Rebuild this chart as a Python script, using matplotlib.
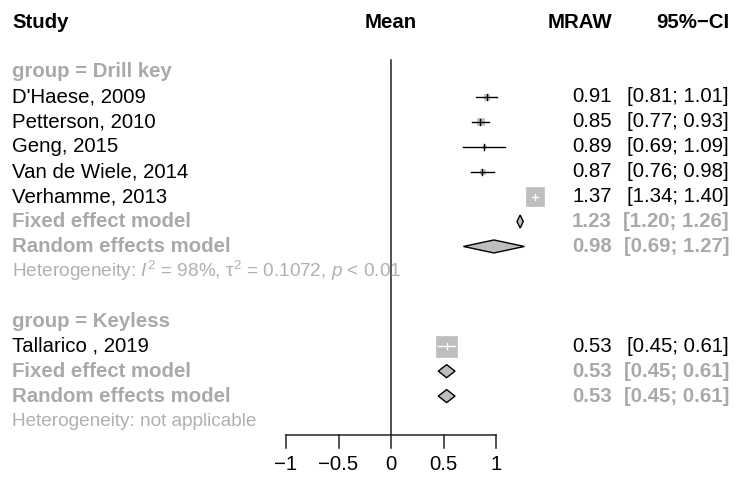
import numpy as np
import matplotlib.pyplot as plt
from matplotlib.patches import Rectangle, Polygon

plt.rcParams['font.family'] = 'Liberation Sans'
plt.rcParams['mathtext.fontset'] = 'custom'
plt.rcParams['mathtext.rm'] = 'Liberation Sans'
plt.rcParams['mathtext.it'] = 'Liberation Sans:italic'

# Subgroup 1: drill key
drill_studies = ["D'Haese, 2009", "Petterson, 2010", "Geng, 2015",
                 "Van de Wiele, 2014", "Verhamme, 2013"]
drill_mean = [0.91, 0.85, 0.89, 0.87, 1.37]
drill_lower = [0.81, 0.77, 0.69, 0.76, 1.34]
drill_upper = [1.01, 0.93, 1.09, 0.98, 1.40]
drill_weight = [6.8, 10.5, 1.7, 5.6, 75.4]   # % within subgroup
drill_fixed = (1.23, 1.20, 1.26)
drill_random = (0.98, 0.69, 1.27)
drill_het = r'Heterogeneity: $I^2$ = 98%, τ$^2$ = 0.1072, $p$ < 0.01'

# Subgroup 2: keyless
keyless_studies = ["Tallarico , 2019"]
keyless_mean = [0.53]
keyless_lower = [0.45]
keyless_upper = [0.61]
keyless_weight = [100.0]
keyless_fixed = (0.53, 0.45, 0.61)
keyless_random = (0.53, 0.45, 0.61)
keyless_het = 'Heterogeneity: not applicable'

ticks = [-1, -0.5, 0, 0.5, 1]
tick_labels = ['\u22121', '\u22120.5', '0', '0.5', '1']

# layout: pixels per unit on x, pixels per row on y
PX = 105.0
ROW = 24.94
FS = 14.7
FS_HET = 13.7
GREY = '#a9a9a9'
GREY_HET = '#b0b0b0'
FILL = '#bebebe'

fig = plt.figure(figsize=(7.34, 4.82), dpi=100)
ax = fig.add_axes([0, 0, 1, 1])
ax.set_xlim(-391 / PX, 343 / PX)
ax.set_ylim((482 - 22) / ROW, -22 / ROW)
ax.axis('off')

x_study = -379 / PX
x_mraw = 221 / PX
x_ci = 338 / PX


def ci_text(m, lo, hi):
    return f'{m:.2f}', f'[{lo:.2f}; {hi:.2f}]'


def draw_group(label, studies, mean, lower, upper, weight, fixed, random, het, r0):
    ax.text(x_study, r0, label, color=GREY, fontsize=FS, fontweight='bold', va='center')
    for i, (s, m, lo, hi, w) in enumerate(zip(studies, mean, lower, upper, weight)):
        r = r0 + 1 + i
        ax.text(x_study, r, s, fontsize=FS, va='center')
        a, b = ci_text(m, lo, hi)
        ax.text(x_mraw, r, a, fontsize=FS, va='center', ha='right')
        ax.text(x_ci, r, b, fontsize=FS, va='center', ha='right')
        side = 21 * np.sqrt(w / 100)
        hw, hh = side / 2 / PX, side / 2 / ROW
        ax.add_patch(Rectangle((m - hw, r - hh), 2 * hw, 2 * hh,
                               facecolor=FILL, edgecolor=FILL, lw=0.5, zorder=2))
        inside = (m - lo) < hw
        lc = 'white' if inside else 'black'
        ax.plot([lo, hi], [r, r], color=lc, lw=1.0, zorder=3)
        ax.plot([m, m], [r - 3 / ROW, r + 3 / ROW], color=lc, lw=1.0, zorder=3)
    r = r0 + 1 + len(studies)
    for j, (name, est) in enumerate([('Fixed effect model', fixed),
                                     ('Random effects model', random)]):
        rr = r + j
        m, lo, hi = est
        ax.text(x_study, rr, name, color=GREY, fontsize=FS, fontweight='bold', va='center')
        a, b = ci_text(m, lo, hi)
        ax.text(x_mraw, rr, a, color=GREY, fontsize=FS, fontweight='bold', va='center', ha='right')
        ax.text(x_ci, rr, b, color=GREY, fontsize=FS, fontweight='bold', va='center', ha='right')
        dh = 6.5 / ROW
        ax.add_patch(Polygon([(lo, rr), (m, rr - dh), (hi, rr), (m, rr + dh)],
                             closed=True, facecolor=FILL, edgecolor='black', lw=1.0, zorder=3))
    ax.text(x_study, r + 2, het, color=GREY_HET, fontsize=FS_HET, va='center')


# column headers
ax.text(x_study, 0, 'Study', fontsize=FS, fontweight='bold', va='center')
ax.text(0, 0, 'Mean', fontsize=FS, fontweight='bold', va='center', ha='center')
ax.text(x_mraw, 0, 'MRAW', fontsize=FS, fontweight='bold', va='center', ha='right')
ax.text(x_ci, 0, '95%\u2212CI', fontsize=FS, fontweight='bold', va='center', ha='right')

draw_group('group = Drill key', drill_studies, drill_mean, drill_lower, drill_upper,
           drill_weight, drill_fixed, drill_random, drill_het, 2)
draw_group('group = Keyless', keyless_studies, keyless_mean, keyless_lower, keyless_upper,
           keyless_weight, keyless_fixed, keyless_random, keyless_het, 12)

# line of no effect and x axis
axis_row = (435 - 22) / ROW
ax.plot([0, 0], [(60 - 22) / ROW, axis_row], color='#222222', lw=1.1, zorder=1)
ax.plot([ticks[0], ticks[-1]], [axis_row, axis_row], color='#222222', lw=1.1)
for t, lab in zip(ticks, tick_labels):
    ax.plot([t, t], [axis_row, axis_row + 13 / ROW], color='#222222', lw=1.1)
    ax.text(t, axis_row + 30 / ROW, lab, fontsize=FS, ha='center', va='center')

fig.savefig('out.png', dpi=100)
